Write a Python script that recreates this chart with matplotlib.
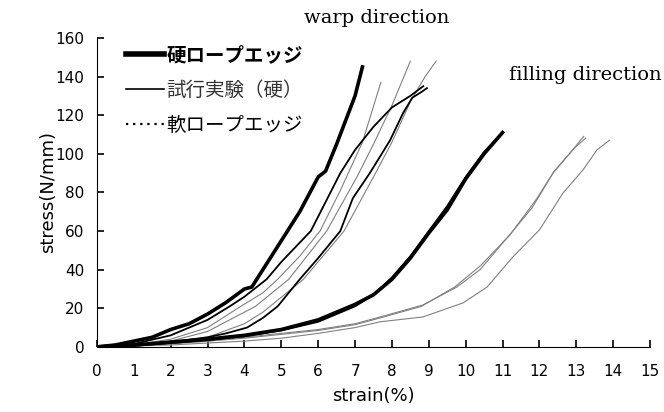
import matplotlib
matplotlib.use("Agg")
import matplotlib.pyplot as plt
from matplotlib.lines import Line2D

# warp direction curves (strain %, stress N/mm)
hard_warp_x = [0, 0.5, 1.0, 1.5, 2.0, 2.5, 3.0, 3.5, 4.0, 4.2, 4.5, 5.0, 5.5, 6.0, 6.2, 6.5, 7.0, 7.2]
hard_warp_y = [0, 1, 3, 5, 9, 12, 17, 23, 30, 31, 40, 55, 70, 88, 91, 105, 130, 145]

trial_warp1_x = [0, 1, 2, 2.5, 3, 3.6, 4, 4.6, 5, 5.4, 5.8, 6.2, 6.6, 7.0, 7.5, 8.0, 8.5, 8.85]
trial_warp1_y = [0, 1.5, 6, 10, 14, 21, 26, 35, 44, 52, 60, 75, 90, 102, 114, 124, 130, 135]
trial_warp2_x = [0, 1, 2, 3, 3.5, 4.07, 4.5, 4.9, 5.5, 6.0, 6.6, 6.94, 7.4, 7.95, 8.3, 8.55, 8.8, 8.95]
trial_warp2_y = [0, 1, 2.5, 5, 7, 10, 15, 21, 35, 46, 60, 77, 90, 107, 121, 129, 132, 134]

soft_warp1_x = [0, 1, 2, 3, 3.9, 4.5, 4.9, 5.5, 6.05, 6.6, 7.2, 7.7]
soft_warp1_y = [0, 1, 4, 10, 21, 28, 35, 47, 60, 81, 106, 137]
soft_warp2_x = [0, 1, 2, 3, 4.3, 5.2, 6.23, 7.05, 7.5, 8.0, 8.5]
soft_warp2_y = [0, 1, 3, 8, 21, 35, 60, 88, 105, 125, 148]
soft_warp3_x = [0, 1, 2, 3, 4, 4.5, 5.6, 6.7, 7.5, 8.0, 8.5, 8.9, 9.2]
soft_warp3_y = [0, 0.5, 2, 5, 12, 18, 35, 60, 88, 106, 127, 140, 148]

# filling direction curves
hard_fill_x = [0, 1, 2, 3, 4, 5, 6, 7, 7.5, 8, 8.5, 9, 9.5, 10, 10.5, 11]
hard_fill_y = [0, 1, 2.5, 4, 6, 9, 14, 22, 27, 35, 46, 59, 71, 87, 100, 111]
trial_fill_x = [0, 1, 2, 3, 4, 5, 6, 7, 7.5, 8, 8.5, 9, 9.5, 10, 10.5, 10.9]
trial_fill_y = [0, 0.5, 2, 3.5, 5.5, 8.5, 13, 21, 27, 36, 47, 60, 73, 88, 101, 109]

soft_fill1_x = [0, 1, 2, 3, 4, 5, 6, 7, 7.68, 8.84, 9.76, 10.39, 11.28, 11.8, 12.37, 12.9, 13.2]
soft_fill1_y = [0, 1, 2, 3, 5, 7, 9, 12, 15.5, 21.7, 31, 40, 60, 72, 90, 102, 109]
soft_fill2_x = [0, 1, 2, 3, 4, 5, 6, 7, 7.68, 8.8, 9.7, 10.4, 11.2, 11.9, 12.4, 12.95, 13.25]
soft_fill2_y = [0, 0.5, 1.5, 3, 4.5, 6.5, 8.5, 11.5, 15, 21, 31, 42, 58, 76, 91, 103, 108]
soft_fill3_x = [0, 1, 2, 3, 4, 5, 6, 7, 7.68, 8.84, 9.93, 10.58, 11.28, 12.0, 12.64, 13.18, 13.56, 13.9]
soft_fill3_y = [0, 0.5, 1, 2, 3, 4.5, 7, 10, 13, 15.5, 22.8, 31, 46.6, 60.6, 79.7, 91.6, 102, 107]

legend_labels = ["硬ロープエッジ", "試行実験（硬）", "軟ロープエッジ"]

fig = plt.figure(figsize=(6.64, 4.12), dpi=100)
ax = fig.add_axes([0.146, 0.158, 0.833, 0.750])

gray = "#808080"
for x, y in [(soft_warp1_x, soft_warp1_y), (soft_warp2_x, soft_warp2_y), (soft_warp3_x, soft_warp3_y),
             (soft_fill1_x, soft_fill1_y), (soft_fill2_x, soft_fill2_y), (soft_fill3_x, soft_fill3_y)]:
    ax.plot(x, y, color=gray, lw=0.8)
for x, y in [(trial_warp1_x, trial_warp1_y), (trial_warp2_x, trial_warp2_y), (trial_fill_x, trial_fill_y)]:
    ax.plot(x, y, color="black", lw=1.3)
for x, y in [(hard_warp_x, hard_warp_y), (hard_fill_x, hard_fill_y)]:
    ax.plot(x, y, color="black", lw=2.6)

ax.set_xlim(0, 15)
ax.set_ylim(0, 160)
ax.set_xticks(range(0, 16))
ax.set_yticks(range(0, 161, 20))
for s in ["top", "right"]:
    ax.spines[s].set_visible(False)
ax.tick_params(direction="in", length=5, width=1.2, labelsize=11)
ax.tick_params(axis="x", pad=12)
ax.tick_params(axis="y", pad=9)
ax.set_xlabel("strain(%)", fontsize=13, labelpad=6)
ax.set_ylabel("stress(N/mm)", fontsize=13)
ax.yaxis.set_label_coords(-0.072, 0.5)

handles = [Line2D([], [], color="black", lw=4),
           Line2D([], [], color="black", lw=1.2),
           Line2D([], [], color="black", lw=1.6, linestyle=(0, (1, 2.2)))]
leg = ax.legend(handles, legend_labels, loc="upper left", bbox_to_anchor=(0.02, 1.03),
                frameon=False, handlelength=2.0, handletextpad=0.1, labelspacing=0.75,
                prop={"family": ["Noto Sans CJK JP"], "size": 14})
leg.get_texts()[0].set_fontweight("bold")
leg.get_texts()[1].set_color("#333333")

fig.text(377 / 664, 1 - 18 / 412, "warp direction", family="DejaVu Serif", fontsize=14,
         ha="center", va="center")
fig.text(662 / 664, 1 - 75 / 412, "filling direction", family="DejaVu Serif", fontsize=14,
         ha="right", va="center")

fig.savefig("out.png", dpi=100)
